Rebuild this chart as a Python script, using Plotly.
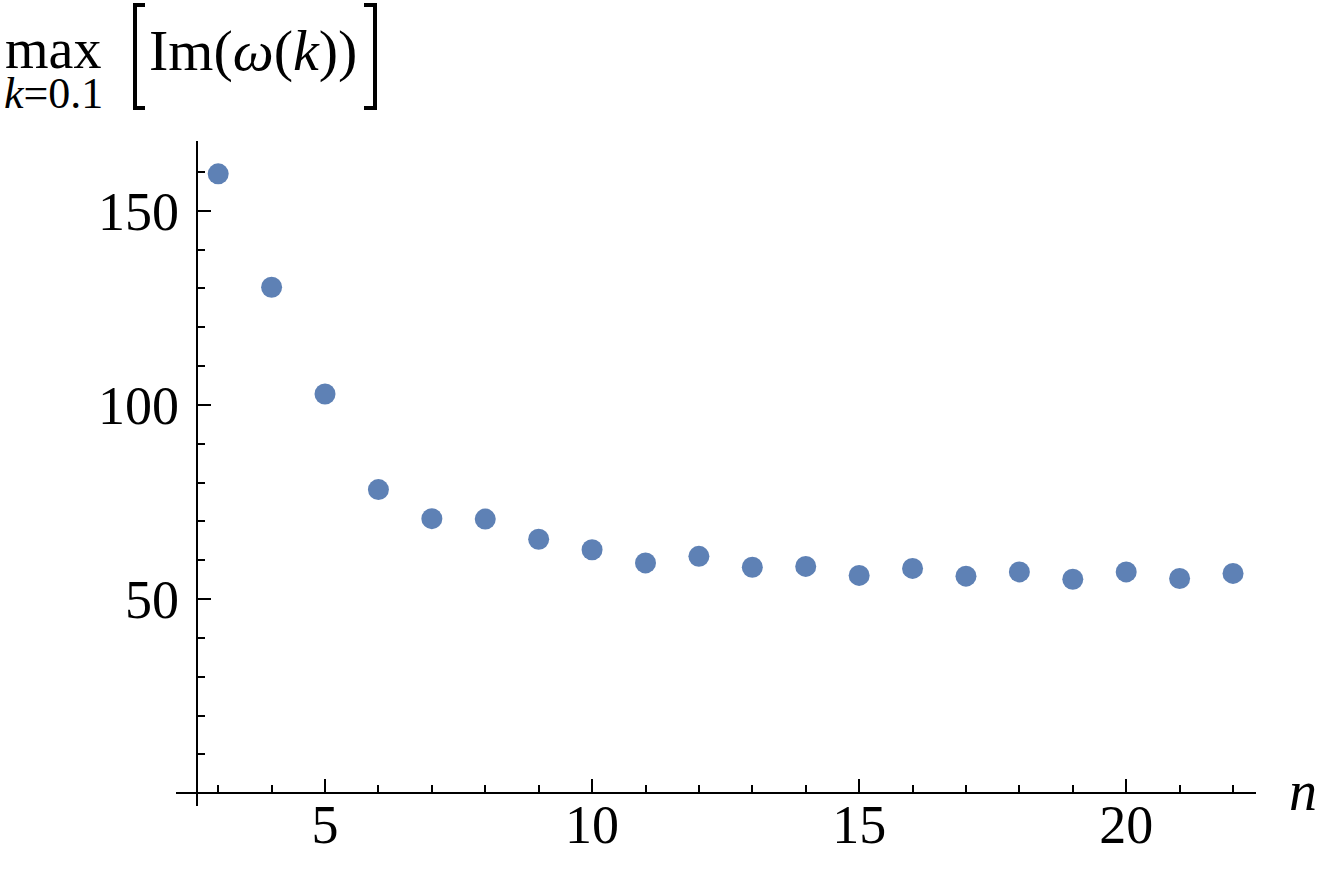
import plotly.graph_objects as go

# ---- data ----
n_vals = list(range(3, 23))
max_im = [159.5, 130.3, 102.8, 78.2, 70.7, 70.6, 65.4, 62.7, 59.3, 61.0,
          58.2, 58.4, 56.1, 57.9, 55.9, 57.0, 55.1, 57.0, 55.3, 56.6]
x_ticks = [5, 10, 15, 20]
y_ticks = [50, 100, 150]

W, H = 1329, 869
L, R, T, B = 176, 73, 141, 62.5
PW, PH = W - L - R, H - T - B

def px(x):
    return (x - L) / PW

def py(y):
    return 1 - (y - T) / PH

FONT = "Liberation Serif"
COLOR = "#5E81B5"

fig = go.Figure()
fig.add_trace(go.Scatter(
    x=n_vals, y=max_im, mode="markers",
    marker=dict(color=COLOR, size=21, line=dict(width=0)),
    showlegend=False, hoverinfo="x+y",
))

fig.update_layout(
    width=W, height=H,
    margin=dict(l=L, r=R, t=T, b=B, pad=0, autoexpand=False),
    paper_bgcolor="white", plot_bgcolor="white",
    font=dict(family=FONT, size=54, color="black"),
    xaxis=dict(
        range=[2.21, 22.43], anchor="free", position=(806.5 - 793.7) / PH,
        automargin=False,
        showgrid=False, zeroline=False, showline=True, linecolor="black", linewidth=2,
        tickmode="array", tickvals=x_ticks, ticks="inside", ticklen=13, tickwidth=2,
        tickcolor="black", tickfont=dict(family=FONT, size=54),
        ticklabelstandoff=-16,
        minor=dict(dtick=1, tick0=0, ticks="inside", ticklen=7, tickwidth=1.5, tickcolor="black"),
    ),
    yaxis=dict(
        range=[-3.29, 167.96], anchor="free", position=(196.7 - L) / PW,
        automargin=False,
        showgrid=False, zeroline=False, showline=True, linecolor="black", linewidth=2,
        tickmode="array", tickvals=y_ticks, ticks="inside", ticklen=13, tickwidth=2,
        tickcolor="black", tickfont=dict(family=FONT, size=54),
        ticklabelstandoff=6,
        minor=dict(dtick=10, tick0=0, ticks="inside", ticklen=7, tickwidth=1.5, tickcolor="black"),
    ),
)

annotations = [
    dict(text="max", x=px(53), y=py(49), size=56),
    dict(text="<i>k</i>=0.1", x=px(53), y=py(93), size=44),
    dict(text="Im(<i>ω</i>(<i>k</i>))", x=px(253), y=py(50), size=58),
    dict(text="<i>n</i>", x=px(1303), y=py(791), size=56),
]
for a in annotations:
    fig.add_annotation(xref="paper", yref="paper", showarrow=False,
                       xanchor="center", yanchor="middle",
                       font=dict(family=FONT, size=a["size"], color="black"),
                       text=a["text"], x=a["x"], y=a["y"])

# square brackets around the label
def bracket(xs, xe, y0, y1):
    return (f"M {px(xe)},{py(y0)} L {px(xs)},{py(y0)} "
            f"L {px(xs)},{py(y1)} L {px(xe)},{py(y1)}")

fig.add_shape(type="path", xref="paper", yref="paper",
              path=bracket(135, 145, 5, 108), line=dict(color="black", width=4))
fig.add_shape(type="path", xref="paper", yref="paper",
              path=bracket(375, 364, 5, 108), line=dict(color="black", width=4))

fig.write_html("out.html", config={"displayModeBar": False},
               post_script="document.body.style.margin='0px';document.body.style.overflow='hidden';")
